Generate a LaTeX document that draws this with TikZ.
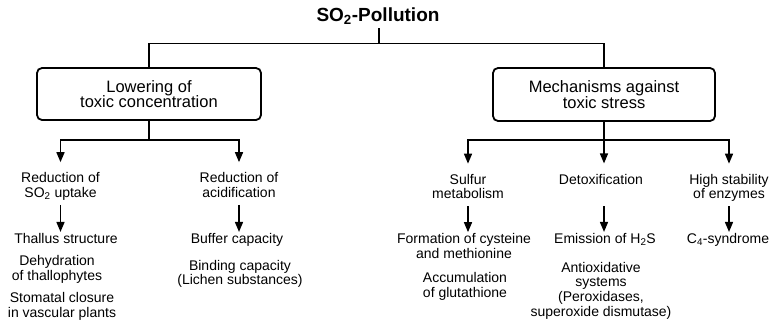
\documentclass[tikz,border=0pt]{standalone}
\usepackage{fontspec}
\setmainfont{Liberation Sans}
\usetikzlibrary{arrows.meta}
\begin{document}
\begin{tikzpicture}[x=1pt,y=-1pt,
  every node/.style={inner sep=0pt},
  heading/.style={font=\fontsize{19}{21}\selectfont\bfseries, inner sep=3pt},
  groupbox/.style={draw, line width=1.8pt, rounded corners=5pt, align=center,
    font=\fontsize{16.5}{15.5}\selectfont,
    execute at begin node={\rule{0pt}{17pt}}},
  % multi-line entries are placed by the baseline of their last line
  item/.style={align=center, anchor=base, font=\fontsize{14}{14.8}\selectfont,
    execute at begin node=\strut, execute at end node=\strut},
  link/.style={line width=1.5pt},
  arr/.style={link, -{Triangle[width=8pt,length=10pt]}},
  arrtop/.style={arr, shorten >=10pt},
  arrsub/.style={arr, shorten <=3pt, shorten >=1pt},
]
\useasboundingbox (0,0) rectangle (778,324);

% root and the two main branches
\node[heading, anchor=base] (title) at (378,21.5) {SO\textsubscript{2}-Pollution};
\node[groupbox, minimum width=224pt, minimum height=52pt] (lbox) at (149,94)
  {Lowering of\\toxic concentration};
\node[groupbox, minimum width=222pt, minimum height=53pt] (rbox) at (604,94.5)
  {Mechanisms against\\toxic stress};

\coordinate (top) at (379,43.5);
\coordinate (lj) at (149,140);
\coordinate (rj) at (604,140);

% first level below the boxes
\node[item] (r1) at (60.5,197.3) {Reduction of\\SO\textsubscript{2} uptake};
\node[item] (r2) at (239,197.3) {Reduction of\\acidification};
\node[item] (sulfur) at (468,198.8) {Sulfur\\metabolism};
\node[item] (detox) at (601,184) {Detoxification};
\node[item] (high) at (729,198.8) {High stability\\of enzymes};

% second level
\node[item] (thallus) at (66,243.5) {Thallus structure};
\node[item] (buffer) at (237,243.5) {Buffer capacity};
\node[item] (formation) at (464,258.3) {Formation of cysteine\\and methionine};
\node[item] (emission) at (605,243.5) {Emission of H\textsubscript{2}S};
\node[item] (csyn) at (728,243.5) {C\textsubscript{4}-syndrome};

% further entries
\node[item] (dehyd) at (57,280.3) {Dehydration\\of thallophytes};
\node[item] (stomatal) at (62,317.3) {Stomatal closure\\in vascular plants};
\node[item] (binding) at (240,284.8) {Binding capacity\\(Lichen substances)};
\node[item] (accum) at (465,297.3) {Accumulation\\of glutathione};
\node[item] (antiox) at (601,316.4) {Antioxidative\\systems\\(Peroxidases,\\superoxide dismutase)};

% connectors
\draw[link] (title.south -| top) -- (top);
\draw[link] (lbox.north) |- (top) -| (rbox.north);

\draw[link] (lbox.south) -- (lj);
\draw[arrtop] (lj) -| (r1.north);
\draw[arrtop] (lj) -| (r2.north);

\draw[link] (rbox.south) -- (rj);
\draw[arrtop] (rj) -| (sulfur.north);
\draw[arrtop] (rj) -- (rj |- detox.north);
\draw[arrtop] (rj) -| (high.north);

\draw[arrsub] (r1.south) -- (r1.south |- thallus.north);
\draw[arrsub] (r2.south) -- (r2.south |- buffer.north);
\draw[arrsub] (sulfur.south) -- (sulfur.south |- formation.north);
\draw[arrsub] (rj |- sulfur.south) -- (rj |- emission.north);
\draw[arrsub] (high.south) -- (high.south |- csyn.north);
\end{tikzpicture}
\end{document}
